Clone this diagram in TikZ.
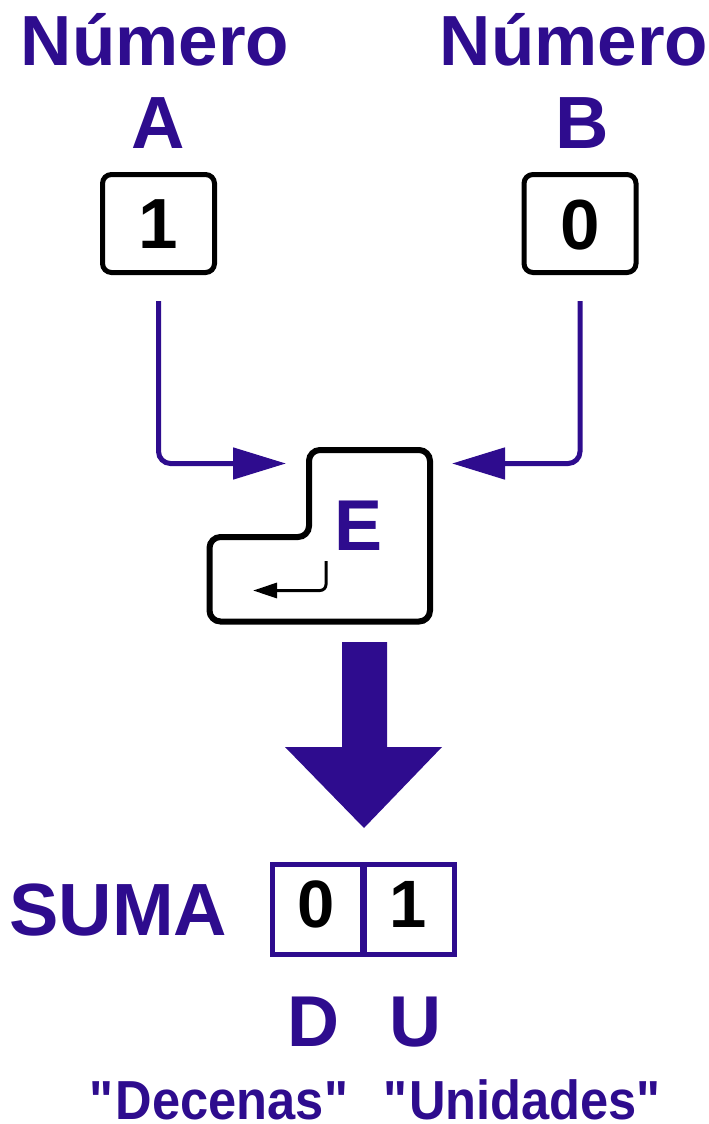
\documentclass[tikz,border=0pt]{standalone}
\usepackage{fontspec}
\setmainfont{Liberation Sans}
\newfontfamily\narrowsans[FakeStretch=0.92]{Liberation Sans}
\usetikzlibrary{arrows.meta}
\definecolor{violeta}{RGB}{46,12,142}
\begin{document}
\begin{tikzpicture}[x=1pt,y=-1pt,
  txt/.style={font=\bfseries\fontsize{#1}{#1}\selectfont, text=violeta, inner sep=0pt, anchor=base},
  txt/.default=71,
  note/.style={font=\narrowsans\bfseries\fontsize{55}{55}\selectfont, text=violeta, inner sep=0pt, anchor=base},
  digit/.style={font=\bfseries\fontsize{#1}{#1}\selectfont, text=black, inner sep=0pt, anchor=base},
  digitbox/.style={draw=black, line width=5pt, rounded corners=9pt, minimum width=112pt, minimum height=98pt, inner sep=0pt},
  sumbox/.style={draw=violeta, line width=5pt, minimum width=90pt, minimum height=90pt, inner sep=0pt},
  conn/.style={draw=violeta, line width=5pt, rounded corners=12pt, -{Triangle[length=53pt,width=31pt]}},
  enter/.style={draw=black, line width=3pt, rounded corners=6pt, -{Triangle[length=24pt,width=15pt]}},
]
\useasboundingbox (0,0) rectangle (709,1124);

% operand titles
\node[txt] (numA) at (155,66) {Número};
\node[txt=74] (letA) at (158,148) {A};
\node[txt] (numB) at (574,66) {Número};
\node[txt=74] (letB) at (582,148) {B};

% operand digit boxes
\node[digitbox] (boxA) at (158.5,223.5) {};
\node[digitbox] (boxB) at (580,223.5) {};
\node[digit=71] (digA) at (158.5,248) {1};
\node[digit=71] (digB) at (580,249) {0};

% inputs of the adder key
\coordinate (inA) at (286,463.5);
\coordinate (inB) at (452,463.5);
\draw[conn] ([yshift=-26pt]boxA.south) |- (inA);
\draw[conn] ([yshift=-26pt]boxB.south) |- (inB);

% adder key shaped like an Enter key
\draw[line width=6pt, rounded corners=11pt]
  (370,450) -- (430,450) -- (430,621.5) -- (209.5,621.5) -- (209.5,537)
  -- (309,537) -- (309,450) -- cycle;
\node[txt=72] (keyE) at (359,550) {E};
\coordinate (retTop) at (326,561);
\coordinate (retEnd) at (253,590.5);
\draw[enter] (retTop) |- (retEnd);

% result arrow
\fill[violeta] (342,642) -- (387,642) -- (387,747) -- (442,747) -- (364,828)
  -- (285,747) -- (342,747) -- cycle;

% result
\node[txt=74] (suma) at (118.5,935) {SUMA};
\node[sumbox] (boxD) at (317.5,909.5) {};
\node[sumbox] (boxU) at (409.5,909.5) {};
\node[digit=67] (digD) at (316,927) {0};
\node[digit=67] (digU) at (408,927) {1};

\node[txt=72] (letD) at (313,1046) {D};
\node[txt=72] (letU) at (415,1046) {U};
\node[note] (decenas) at (220,1119) {\textquotedbl Decenas\textquotedbl};
\node[note] (unidades) at (523,1119) {\textquotedbl Unidades\textquotedbl};
\end{tikzpicture}
\end{document}
